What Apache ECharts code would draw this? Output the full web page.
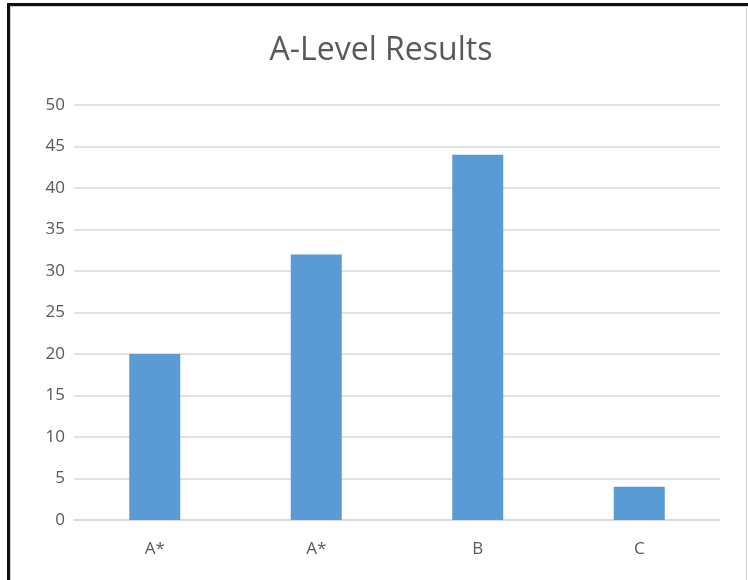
<!DOCTYPE html>
<html>
<head>
<meta charset="utf-8">
<script src="https://cdn.jsdelivr.net/npm/echarts@6/dist/echarts.min.js"></script>
<style>
html,body{margin:0;padding:0;background:#fff;}
#chart{position:absolute;left:0;top:0;width:748px;height:580px;}
.bl{position:absolute;left:7px;top:3px;width:3px;height:577px;background:#111;}
.bt{position:absolute;left:7px;top:3px;width:741px;height:3px;background:#111;}
.il{position:absolute;left:10px;top:6px;width:1px;height:574px;background:#d0d0d0;}
.it{position:absolute;left:10px;top:6px;width:738px;height:1px;background:#d0d0d0;}
.br{position:absolute;left:746px;top:6px;width:1px;height:574px;background:#d9d9d9;}
</style>
</head>
<body>
<div id="chart"></div>
<div class="bl"></div><div class="bt"></div><div class="il"></div><div class="it"></div><div class="br"></div>
<script>
const titleText = "A-Level Results";
const categories = ["A*", "A*", "B", "C"];
const values = [20, 32, 44, 4];
const yMin = 0, yMax = 50, yStep = 5;

const chart = echarts.init(document.getElementById('chart'));
chart.setOption({
  backgroundColor: '#fff',
  animation: false,
  title: {
    text: titleText,
    left: 376, top: 30,
    textAlign: 'center',
    textStyle: { fontFamily: 'Open Sans', fontSize: 32, fontWeight: 'normal', color: '#595959' }
  },
  grid: { left: 74, right: 28, top: 105, bottom: 60 },
  xAxis: {
    type: 'category',
    data: categories,
    axisLine: { show: true, lineStyle: { color: '#d9d9d9', width: 1.5 } },
    axisTick: { show: false },
    axisLabel: { fontFamily: 'Open Sans', fontSize: 17, color: '#595959', margin: 21 }
  },
  yAxis: {
    type: 'value',
    min: yMin, max: yMax, interval: yStep,
    axisLine: { show: false },
    axisTick: { show: false },
    splitLine: { lineStyle: { color: '#d9d9d9', width: 1.5 } },
    axisLabel: { fontFamily: 'Open Sans', fontSize: 17, color: '#595959', margin: 9 }
  },
  series: [{
    type: 'bar',
    data: values,
    barWidth: 51,
    itemStyle: { color: '#5b9bd5' }
  }]
});
</script>
</body>
</html>
